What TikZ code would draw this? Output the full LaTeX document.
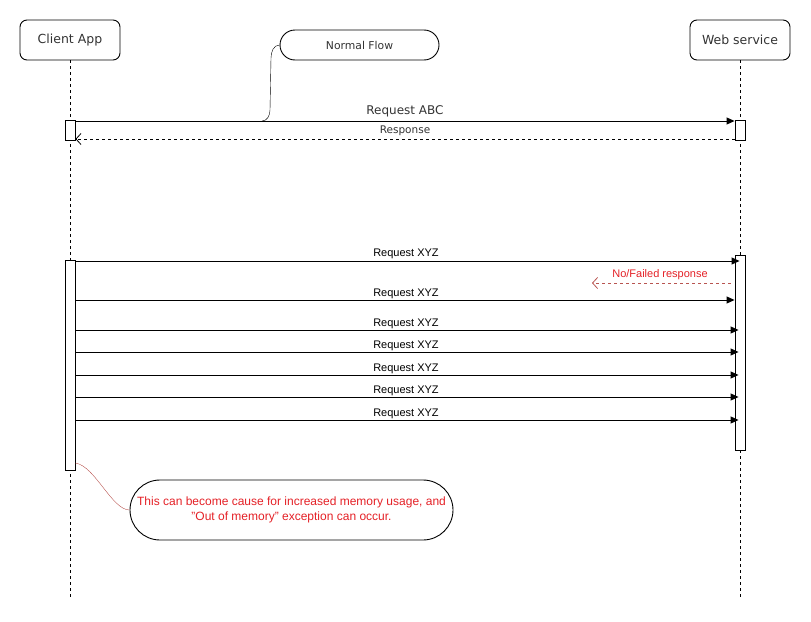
\documentclass[tikz,border=0pt]{standalone}
\usepackage{fontspec}
\setmainfont{Liberation Sans}
\newfontfamily\hdrfont{DejaVu Sans}
\usetikzlibrary{arrows.meta,positioning,shapes.misc,calc}
\definecolor{notered}{RGB}{228,32,38}
\definecolor{linkred}{RGB}{184,84,80}
\definecolor{hdrgray}{RGB}{51,51,51}

\tikzset{
  actor/.style={draw, line width=0.9pt, rounded corners=7pt, minimum width=100pt, minimum height=40pt,
    font=\hdrfont\fontsize{12.5}{14}\selectfont, text=hdrgray},
  lifeline/.style={line width=0.9pt, dash pattern=on 3pt off 3pt},
  actbox/.style={draw, line width=0.9pt, fill=white, minimum width=10pt, inner sep=0pt},
  pill/.style={draw, line width=0.9pt, rounded rectangle, inner sep=0pt},
  msg/.style={line width=0.9pt, -{Triangle[length=8pt,width=7pt]}},
  reply/.style={line width=0.8pt, dash pattern=on 3pt off 3pt, -{Straight Barb[length=5pt,width=11pt]}},
  lbl/.style={font=\fontsize{11}{13}\selectfont, inner sep=0pt}
}

\begin{document}
\begin{tikzpicture}[x=1pt,y=-1pt]
\useasboundingbox (0,0) rectangle (811,621);

% lifelines
\node[actor] (client) at (70,40) {Client App};
\node[actor] (websvc) at (740,40) {Web service};
\coordinate (clientend) at (70,598);
\coordinate (websvcend) at (740,598);
\draw[lifeline] (client) -- (clientend);
\draw[lifeline] (websvc) -- (websvcend);

% activations
\node[actbox, minimum height=20pt] (ca1) at (70,130) {};
\node[actbox, minimum height=20pt] (ws1) at (740,130) {};
\node[actbox, minimum height=210pt] (ca2) at (70,365) {};
\node[actbox, minimum height=195pt] (ws2) at (740,352.5) {};

% normal flow
\draw[msg] (ca1.east |- 0,121) -- (ws1.west |- 0,121);
\node[font=\hdrfont\fontsize{12}{14}\selectfont, text=hdrgray] (abc) at (405,111) {Request ABC};
\draw[reply] (ws1.west |- 0,139) -- (ca1.east |- 0,139);
\node[font=\hdrfont\fontsize{10.5}{12}\selectfont, text=hdrgray] (resp) at (405,131) {Response};

\node[pill, minimum width=159pt, minimum height=30pt, font=\hdrfont\fontsize{10.8}{12}\selectfont, text=hdrgray] (flow) at (359.5,45) {Normal Flow};
\coordinate (flowtip) at (262,121);
\draw (flow.west) to[out=180,in=90] (271,58) -- (270,110) to[out=-90,in=0] (flowtip);

% repeated requests
\foreach \i/\y/\ly/\tip in {1/261/254/5, 2/300/294/0, 3/330/324/4, 4/352/346/4, 5/375/369/4, 6/397/391/4, 7/420/414/4} {
  \draw[msg, shorten >=-\tip pt] (ca2.east |- 0,\y) -- (ws2.west |- 0,\y);
  \node[lbl] (xyz\i) at (406,\ly) {Request XYZ};
}

\coordinate (failend) at (592,283);
\draw[reply, draw=linkred] ($(ws2.west |- 0,283)+(-4,0)$) -- (failend);
\node[lbl, text=notered] (fail) at (660,275) {No/Failed response};

% note
\node[pill, minimum width=323pt, minimum height=60pt, align=center, text=notered,
  font=\fontsize{12}{15}\selectfont] (note) at (291.5,510)
  {This can become cause for increased memory usage, and\\"Out of memory" exception can occur.};
\draw[linkred] (ca2.east |- 0,463) .. controls (95,466) and (112,510) .. (note.west);

\end{tikzpicture}
\end{document}
